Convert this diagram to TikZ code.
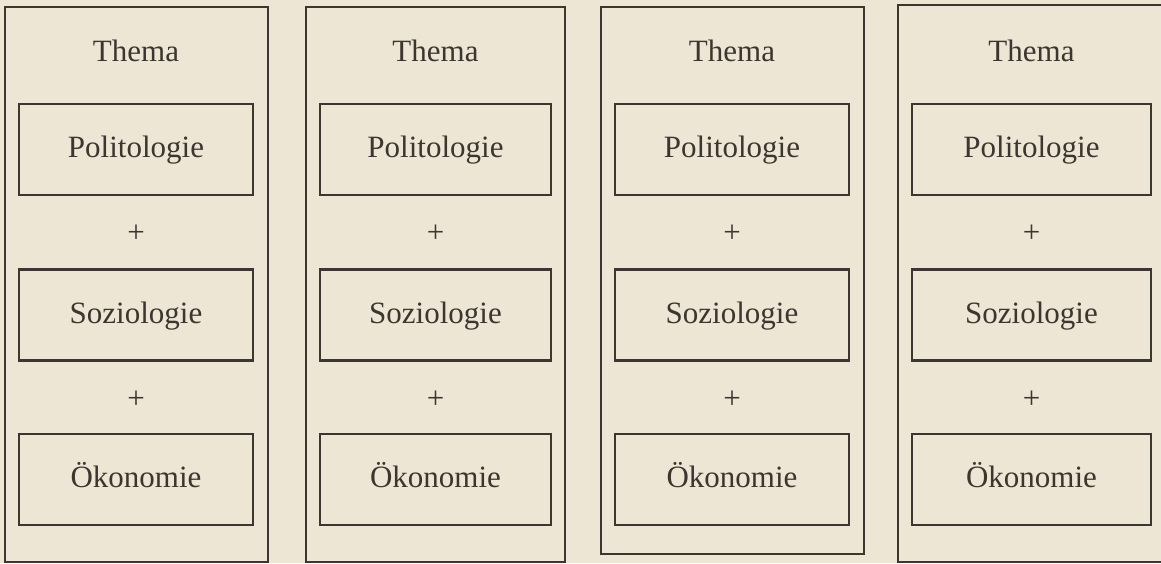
\documentclass[tikz,border=0pt]{standalone}
\usepackage{fontspec}
\setmainfont{Liberation Serif}
\definecolor{paper}{HTML}{EDE6D4}
\definecolor{ink}{HTML}{3B362F}
\begin{document}
\begin{tikzpicture}[x=1pt,y=-1pt,
  frame/.style={draw=ink, line width=2.2pt, rectangle, inner sep=0pt},
  txt/.style={text=ink, font=\fontsize{31}{36}\selectfont, inner sep=0pt, text height=16pt, text depth=0pt},
  discbox/.style={frame, txt, minimum height=91pt}]
\useasboundingbox (0,0) rectangle (1161,563);
\fill[paper] (0,0) rectangle (1161,563);
\clip (0,0) rectangle (1161,563);
\foreach \n/\xa/\xb/\xc/\xd/\ya/\yb in {1/5/268/19/253/7/562, 2/306/565/320/551/7/562, 3/601/864/615/849/7/554, 4/898/1164/912/1151/5/562}{
  \node[frame, minimum width={\xb-\xa}, minimum height={\yb-\ya}] (outer\n) at ({(\xa+\xb)/2},{(\ya+\yb)/2}) {};
  \node[txt] (thema\n) at ({(\xc+\xd)/2},53) {Thema};
  \node[discbox, minimum width={\xd-\xc}] (pol\n) at ({(\xc+\xd)/2},149.5) {Politologie};
  \node[txt] (plusa\n) at ({(\xc+\xd)/2},234) {+};
  \node[discbox, minimum width={\xd-\xc}] (soz\n) at ({(\xc+\xd)/2},315) {Soziologie};
  \node[txt] (plusb\n) at ({(\xc+\xd)/2},400) {+};
  \node[discbox, minimum width={\xd-\xc}] (oek\n) at ({(\xc+\xd)/2},479.5) {Ökonomie};
}
\end{tikzpicture}
\end{document}
